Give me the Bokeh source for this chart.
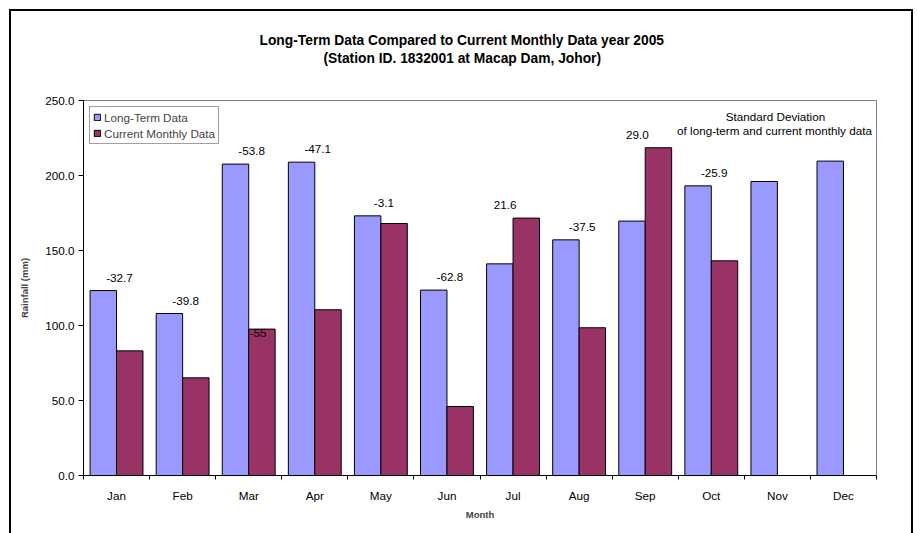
from bokeh.plotting import figure
from bokeh.models import (ColumnDataSource, Range1d, FixedTicker, NumeralTickFormatter,
                          LabelSet, Label, Legend, LegendItem, Title)
from bokeh.core.properties import value
from bokeh.embed import file_html
from bokeh.resources import INLINE

# Monthly rainfall (mm), Macap Dam station
months = ["Jan", "Feb", "Mar", "Apr", "May", "Jun",
          "Jul", "Aug", "Sep", "Oct", "Nov", "Dec"]
long_term = [123.3, 108.0, 207.6, 208.9, 173.1, 123.6,
             141.1, 157.1, 169.6, 193.1, 196.0, 209.6]
current = [83.1, 65.1, 97.6, 110.5, 168.0, 46.0,
           171.6, 98.5, 218.5, 143.1]
std_dev = ["-32.7", "-39.8", "-53.8", "-47.1", "-3.1", "-62.8",
           "21.6", "-37.5", "29.0", "-25.9"]
stray_note = "-55"
stray_month = "Mar"
y_ticks = [0, 50, 100, 150, 200, 250]

FONT = "Liberation Sans"
LT_COLOR = "#9999FF"
CM_COLOR = "#993366"
BAR_W = 0.4

n = len(months)
p = figure(width=917, height=533, title=None,
           x_range=Range1d(0, n), y_range=Range1d(0, 250),
           output_backend="svg", toolbar_location=None,
           min_border_left=83, min_border_right=41,
           min_border_top=100, min_border_bottom=58,
           background_fill_color="white", border_fill_alpha=0,
           outline_line_color="#808080", outline_line_width=1)
p.grid.visible = False

# outer chart frame (left, top and right edges) painted behind the canvas
p.styles = {"box-shadow": "inset 9px 9px 0 0 white, inset -4px 0 0 0 white, "
                          "inset 11px 11px 0 0 black, inset -6px 0 0 0 black",
            "background-color": "white"}

lt_src = ColumnDataSource(dict(x=[i + 0.5 - BAR_W / 2 for i in range(n)], top=long_term))
cm_src = ColumnDataSource(dict(x=[i + 0.5 + BAR_W / 2 for i in range(len(current))], top=current))
r_lt = p.vbar(x="x", top="top", bottom=0, width=BAR_W, source=lt_src,
              fill_color=LT_COLOR, line_color="#000000", line_width=1)
r_cm = p.vbar(x="x", top="top", bottom=0, width=BAR_W, source=cm_src,
              fill_color=CM_COLOR, line_color="#000000", line_width=1)

# standard deviation labels above the taller bar of each month
lab_x, lab_y = [], []
for i in range(len(std_dev)):
    taller_current = current[i] > long_term[i]
    lab_x.append(i + 0.5 + (-0.12 if taller_current else 0.045))
    lab_y.append(max(long_term[i], current[i]))
lab_src = ColumnDataSource(dict(x=lab_x, y=lab_y, text=std_dev))
p.add_layout(LabelSet(x="x", y="y", text="text", source=lab_src,
                      y_offset=13, text_align="center",
                      text_baseline="middle", text_font=value(FONT),
                      text_font_size=value("11.7px"), text_color="black"))

mi = months.index(stray_month)
p.add_layout(Label(x=mi + 0.5, y=current[mi], text=stray_note,
                   text_align="left", text_baseline="top", x_offset=1,
                   text_font=FONT, text_font_size="11.7px", text_color="black"))

# axes
xa = p.xaxis[0]
xa.ticker = FixedTicker(ticks=[i + 0.5 for i in range(n)],
                        minor_ticks=list(range(n + 1)))
xa.major_label_overrides = {i + 0.5: m for i, m in enumerate(months)}
xa.major_tick_out = 0
xa.major_tick_in = 0
xa.minor_tick_out = 4
xa.minor_tick_in = 0
xa.minor_tick_line_color = "black"
xa.axis_line_color = "black"
xa.major_label_standoff = 9
xa.major_label_text_font = FONT
xa.major_label_text_font_size = "11.7px"
xa.major_label_text_color = "black"
xa.axis_label = "Month"
xa.axis_label_text_font = FONT
xa.axis_label_text_font_size = "9.5px"
xa.axis_label_text_font_style = "bold"
xa.axis_label_standoff = 4

ya = p.yaxis[0]
ya.ticker = FixedTicker(ticks=y_ticks)
ya.formatter = NumeralTickFormatter(format="0.0")
ya.major_tick_out = 5
ya.major_tick_in = 0
ya.minor_tick_out = 0
ya.minor_tick_in = 0
ya.axis_line_color = "black"
ya.major_tick_line_color = "black"
ya.major_label_standoff = 4
ya.major_label_text_font = FONT
ya.major_label_text_font_size = "11.7px"
ya.major_label_text_color = "black"
ya.axis_label = "Rainfall (mm)"
ya.axis_label_text_font = FONT
ya.axis_label_text_font_size = "9.5px"
ya.axis_label_text_font_style = "bold"
ya.axis_label_standoff = 12

legend = Legend(items=[LegendItem(label="Long-Term Data", renderers=[r_lt]),
                       LegendItem(label="Current Monthly Data", renderers=[r_cm])],
                location="top_left", margin=6, padding=3, spacing=2,
                glyph_width=8, glyph_height=8, label_standoff=3,
                label_text_font=FONT, label_text_font_size="11.7px",
                label_height=14, border_line_color="#404040", border_line_width=1,
                background_fill_color="white", background_fill_alpha=1)
p.add_layout(legend)

# heading: a blank white spacer nearest the frame, then the two lines
p.add_layout(Title(text=".", text_font=FONT, text_font_size="13.8px",
                   text_color="white", standoff=23), "above")
p.add_layout(Title(text="(Station ID. 1832001 at Macap Dam, Johor)", align="left",
                   offset=240, text_font=FONT, text_font_size="13.8px",
                   text_font_style="bold", text_color="black", standoff=0), "above")
p.add_layout(Title(text="Long-Term Data Compared to Current Monthly Data year 2005",
                   align="left", offset=176, text_font=FONT, text_font_size="13.8px",
                   text_font_style="bold", text_color="black", standoff=2), "above")

def frame_note(x, y, text):
    p.add_layout(Label(x=x, y=y, x_units="canvas", y_units="canvas", text=text,
                       text_align="center", text_baseline="middle", text_font=FONT,
                       text_font_size="11.7px", text_color="black"))

frame_note(775, 116, "Standard Deviation")
frame_note(774, 130, "of long-term and current monthly data")

open("out.html", "w").write(file_html(p, INLINE))
